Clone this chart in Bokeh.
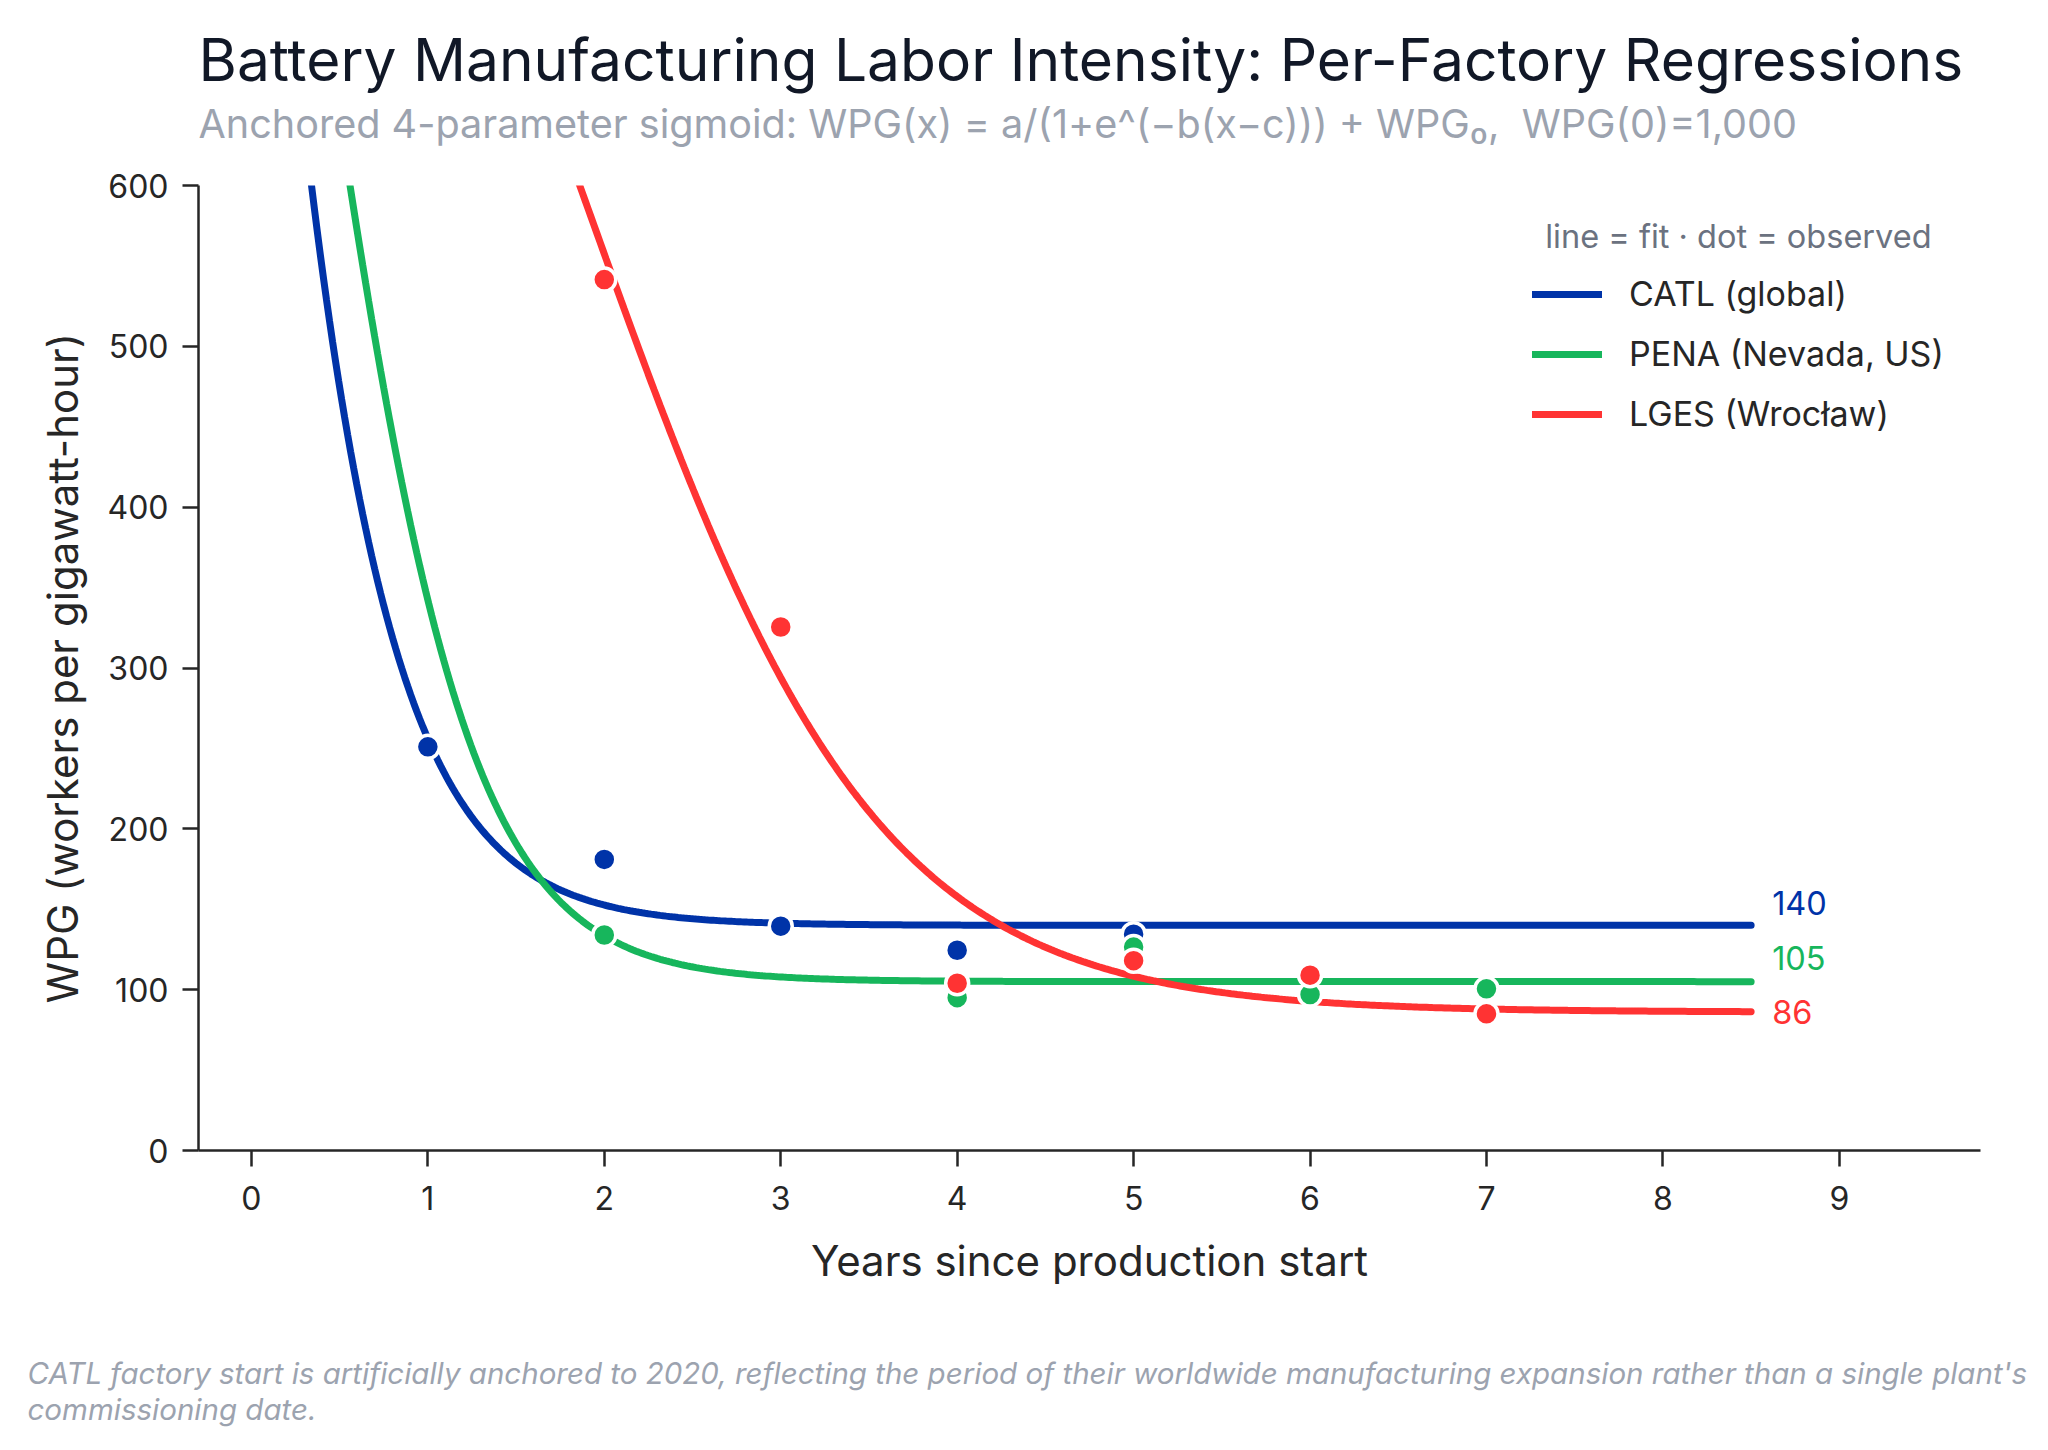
import numpy as np
from bokeh.plotting import figure
from bokeh.models import Range1d, Label, Legend, LegendItem, ColumnDataSource, FixedTicker, Title
from bokeh.embed import file_html
from bokeh.resources import INLINE
from bokeh.core.properties import value

# ---------------- data ----------------
series_names = ["CATL (global)", "PENA (Nevada, US)", "LGES (Wrocław)"]
colors = ["#0033a8", "#17b65c", "#ff3333"]

catl_years = [1, 2, 3, 4, 5]
catl_wpg = [251, 181, 139.5, 124.5, 134.5]
pena_years = [2, 4, 5, 6, 7]
pena_wpg = [134, 95, 126.5, 97, 100.5]
lges_years = [2, 3, 4, 5, 6, 7]
lges_wpg = [541.5, 325.5, 104, 118, 109, 85]

# fitted sigmoid parameters: floor (WPG0 plateau), steepness, midpoint; anchored WPG(0)=1000
fit_floor = [140, 105, 86]
fit_rate = [2.25, 2.3, 1.22]
fit_mid = [-0.5, 0.35, 1.9]
anchor_wpg = 1000
fit_end_year = 8.5

x_ticks = [0, 1, 2, 3, 4, 5, 6, 7, 8, 9]
y_ticks = [0, 100, 200, 300, 400, 500, 600]

title_text = "Battery Manufacturing Labor Intensity: Per-Factory Regressions"
subtitle_text = "Anchored 4-parameter sigmoid: WPG(x) = a/(1+e^(\u2212b(x\u2212c))) + WPG\u2080,\u00a0 WPG(0)=1,000"
legend_title_text = "line = fit \u00b7 dot = observed"
footnote_lines = [
    "CATL factory start is artificially anchored to 2020, reflecting the period of their worldwide manufacturing expansion rather than a single plant's",
    "commissioning date.",
]

# ---------------- layout ----------------
X0, X1 = -0.3, 9.8
Y0, Y1 = 0, 600
W, H = 2040, 1440
FL, FT, FW, FH = 198, 185, 1782, 965  # frame in figure pixels


def X(px):
    return X0 + (px - FL) / FW * (X1 - X0)


def Y(py):
    return Y0 + (FT + FH - py) / FH * (Y1 - Y0)


p = figure(width=W, height=H, output_backend="svg", toolbar_location=None, title=None,
           x_range=Range1d(X0, X1), y_range=Range1d(Y0, Y1),
           min_border_left=FL, min_border_top=FT,
           min_border_right=W - FL - FW, min_border_bottom=H - FT - FH)
p.outline_line_color = None
p.grid.visible = False
p.background_fill_color = "white"
p.border_fill_color = "white"

ink = "#262626"
for ax in (p.xaxis[0], p.yaxis[0]):
    ax.axis_line_width = 2.5
    ax.axis_line_color = ink
    ax.major_tick_line_width = 2.5
    ax.major_tick_line_color = ink
    ax.major_tick_out = 16
    ax.major_tick_in = 0
    ax.minor_tick_line_color = None
    ax.major_label_text_font = "Inter"
    ax.major_label_text_font_size = "32px"
    ax.major_label_text_color = ink
    ax.axis_label_text_font = "Inter"
    ax.axis_label_text_font_size = "42px"
    ax.axis_label_text_font_style = "normal"
    ax.axis_label_text_color = ink

p.xaxis.ticker = FixedTicker(ticks=x_ticks)
p.yaxis.ticker = FixedTicker(ticks=y_ticks)
p.xaxis.axis_label = "Years since production start"
p.yaxis.axis_label = "WPG (workers per gigawatt-hour)"
p.xaxis.major_label_standoff = 19
p.yaxis.major_label_standoff = 14
p.xaxis.axis_label_standoff = 22
p.yaxis.axis_label_standoff = 16


def fit_curve(x, floor, k, c):
    amp = (anchor_wpg - floor) * (1 + np.exp(-k * c))
    return floor + amp / (1 + np.exp(k * (x - c)))


xs = np.linspace(0, fit_end_year, 500)
line_renderers = []
for i in range(3):
    ys = fit_curve(xs, fit_floor[i], fit_rate[i], fit_mid[i])
    r = p.line(xs, ys, line_width=7, line_color=colors[i], line_cap="round")
    line_renderers.append(r)

obs = [(catl_years, catl_wpg), (pena_years, pena_wpg), (lges_years, lges_wpg)]
for i, (yx, yv) in enumerate(obs):
    p.scatter(yx, yv, size=23, fill_color=colors[i], line_color="white", line_width=3.5)

# end-of-line plateau labels (nudged apart vertically)
end_src = ColumnDataSource(dict(
    x=[fit_end_year] * 3,
    y=fit_floor,
    text=[f"{v:g}" for v in fit_floor],
    color=colors,
    yoff=[-22, -24, 0],
))
p.text(x="x", y="y", text="text", source=end_src, text_color="color",
       x_offset=21, y_offset="yoff", text_baseline="middle", text_align="left",
       text_font=value("Inter"), text_font_size=value("32.5px"))

# legend
legend = Legend(items=[LegendItem(label=series_names[i], renderers=[line_renderers[i]]) for i in range(3)],
                location=(1334, 716), orientation="vertical",
                padding=0, margin=0, spacing=19,
                glyph_width=70, glyph_height=40, label_height=40, label_standoff=27,
                label_text_font="Inter", label_text_font_size="34px", label_text_color=ink,
                border_line_color=None, background_fill_alpha=0)
p.add_layout(legend, "center")

p.add_layout(Label(x=X(1544.7), y=Y(236), text=legend_title_text, text_font="Inter",
                   text_font_size="32.5px", text_color="#6b7280", text_baseline="middle"))

# titles (first added sits closest to the frame)
sub = Title(text=subtitle_text, align="left", text_font="Inter", text_font_size="39.6px",
            text_font_style="normal", text_color="#9ca3af", standoff=76)
ttl = Title(text=title_text, align="left", text_font="Inter", text_font_size="58.7px",
            text_font_style="normal", text_color="#111827", standoff=-70)
p.add_layout(sub, "above")
p.add_layout(ttl, "above")

# footnote below the x axis (a blank spacer title pushes it down)
foot_style = dict(align="left", offset=27 - FL, text_font="Inter", text_font_style="italic",
                  text_font_size="29.5px", text_color="#9ca3af")
p.add_layout(Title(text="\u00a0", standoff=27, **foot_style), "below")
for line in footnote_lines:
    p.add_layout(Title(text=line, standoff=-2, **foot_style), "below")

open("out.html", "w").write(file_html(p, INLINE))
